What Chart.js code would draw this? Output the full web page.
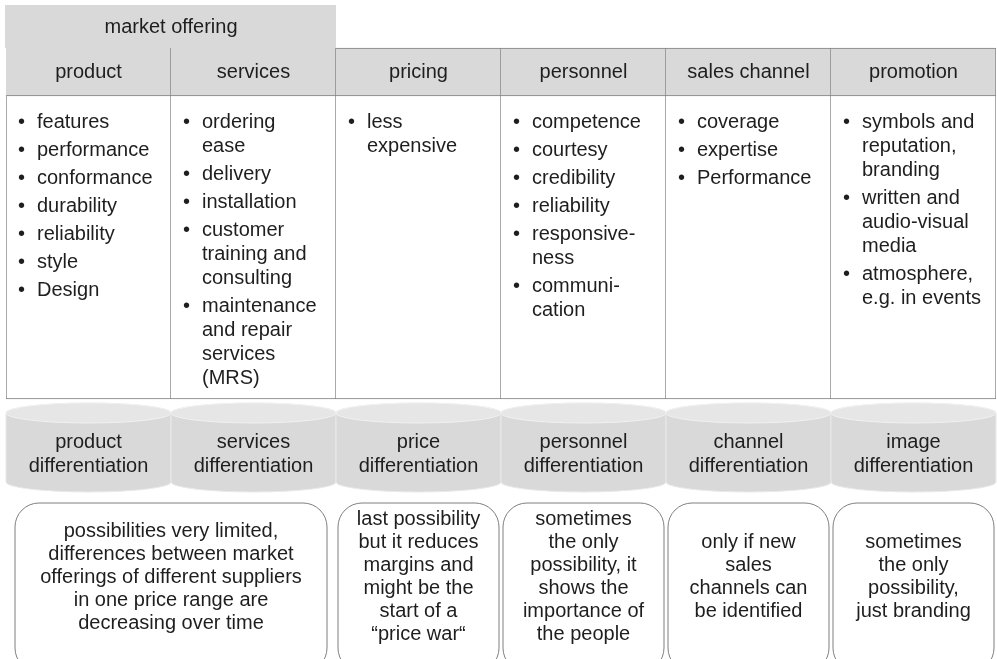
<!DOCTYPE html>
<html><head><meta charset="utf-8">
<script src="https://cdn.jsdelivr.net/npm/chart.js@4"></script>
<style>html,body{margin:0;padding:0;background:#fff}#wrap{width:997px;height:659px;position:relative}</style>
</head><body><div id="wrap"><canvas id="c"></canvas></div>
<script>
// ---- data ----
const groupTitle = 'market offering';
const groupSpan = 2;
const categories = ['product','services','pricing','personnel','sales channel','promotion'];
const attributes = [
  [['features'],['performance'],['conformance'],['durability'],['reliability'],['style'],['Design']],
  [['ordering','ease'],['delivery'],['installation'],['customer','training and','consulting'],['maintenance','and repair','services','(MRS)']],
  [['less','expensive']],
  [['competence'],['courtesy'],['credibility'],['reliability'],['responsive-','ness'],['communi-','cation']],
  [['coverage'],['expertise'],['Performance']],
  [['symbols and','reputation,','branding'],['written and','audio-visual','media'],['atmosphere,','e.g. in events']]
];
const differentiation = [
  ['product','differentiation'],['services','differentiation'],['price','differentiation'],
  ['personnel','differentiation'],['channel','differentiation'],['image','differentiation']
];
const assessments = [
  ['possibilities very limited,','differences between market','offerings of different suppliers','in one price range are','decreasing over time'],
  ['last possibility','but it reduces','margins and','might be the','start of a','\u201Cprice war\u201C'],
  ['sometimes','the only','possibility, it','shows the','importance of','the people'],
  ['only if new','sales','channels can','be identified'],
  ['sometimes','the only','possibility,','just branding']
];
const assessmentSpans = [2,1,1,1,1];

// ---- layout (y-scale units) ----
const ROW = { group:[5,48], header:[48,96], body:[96,399], cylinder:[403,492], assessment:[503,672] };
const FONT = '20px "Liberation Sans", Arial, sans-serif';
const TEXT = '#1e1e1e';
const LINE = '#7f7f7f';
const GRAY = '#d9d9d9';

const band = r => categories.map(() => r.slice());

function rectOf(el){
  return { left: el.x - el.width/2, right: el.x + el.width/2, top: Math.min(el.y, el.base), bottom: Math.max(el.y, el.base) };
}

const diagramPlugin = {
  id: 'diagram',
  beforeDatasetsDraw(chart){
    const ctx = chart.ctx, ys = chart.scales.y;
    const els = chart.getDatasetMeta(0).data;
    const a = rectOf(els[0]), b = rectOf(els[groupSpan-1]);
    ctx.save();
    ctx.fillStyle = GRAY;
    ctx.fillRect(a.left - 1, ys.getPixelForValue(ROW.group[0]), b.right - a.left + 1, ys.getPixelForValue(ROW.group[1]) - ys.getPixelForValue(ROW.group[0]));
    ctx.restore();
  },
  afterDatasetsDraw(chart){
    const ctx = chart.ctx, ys = chart.scales.y;
    ctx.save();
    ctx.font = FONT;
    ctx.fillStyle = TEXT;
    ctx.textBaseline = 'middle';
    ctx.textAlign = 'center';
    // group title
    const hdr = chart.getDatasetMeta(0).data;
    const g0 = rectOf(hdr[0]), g1 = rectOf(hdr[groupSpan-1]);
    ctx.fillText(groupTitle, (g0.left + g1.right)/2, (ys.getPixelForValue(ROW.group[0]) + ys.getPixelForValue(ROW.group[1]))/2 + 1);
    // header labels
    hdr.forEach((el, i) => {
      const r = rectOf(el);
      ctx.fillText(categories[i], (r.left + r.right)/2, (r.top + r.bottom)/2);
    });
    // bullet lists
    const body = chart.getDatasetMeta(1).data;
    body.forEach((el, i) => {
      const r = rectOf(el);
      let y = r.top + 26;
      ctx.textAlign = 'left';
      attributes[i].forEach(item => {
        ctx.fillText('\u2022', r.left + 12, y);
        item.forEach(line => { ctx.fillText(line, r.left + 31, y); y += 24; });
        y += 4;
      });
    });
    // cylinders
    const cyl = chart.getDatasetMeta(2).data;
    const ry = 10;
    cyl.forEach((el, i) => {
      const r = rectOf(el);
      const cx = (r.left + r.right)/2, rx = (r.right - r.left)/2;
      const tC = r.top + ry, bC = r.bottom - ry;
      ctx.beginPath();
      ctx.moveTo(r.left, tC);
      ctx.lineTo(r.left, bC);
      ctx.ellipse(cx, bC, rx, ry, 0, Math.PI, 0, true);
      ctx.lineTo(r.right, tC);
      ctx.ellipse(cx, tC, rx, ry, 0, 0, Math.PI, true);
      ctx.closePath();
      ctx.fillStyle = GRAY;
      ctx.fill();
      ctx.strokeStyle = '#e9e9e9';
      ctx.lineWidth = 1;
      ctx.stroke();
      ctx.beginPath();
      ctx.ellipse(cx, tC, rx, ry, 0, 0, Math.PI*2);
      ctx.fillStyle = '#e6e6e6';
      ctx.fill();
      ctx.strokeStyle = '#f1f1f1';
      ctx.stroke();
      ctx.fillStyle = TEXT;
      ctx.textAlign = 'center';
      const mid = (tC + r.bottom)/2 + 2;
      const lines = differentiation[i];
      lines.forEach((ln, k) => ctx.fillText(ln, cx, mid + (k - (lines.length-1)/2) * 24));
    });
    // assessment boxes
    const as = chart.getDatasetMeta(3).data;
    let idx = 0;
    assessments.forEach((lines, j) => {
      const span = assessmentSpans[j];
      const a = rectOf(as[idx]), b = rectOf(as[idx + span - 1]);
      idx += span;
      const inset = span > 1 ? 9 : 2;
      const x0 = a.left + inset, x1 = b.right - inset;
      const y0 = a.top, y1 = a.bottom;
      const rad = 24;
      ctx.beginPath();
      ctx.moveTo(x0 + rad, y0);
      ctx.arcTo(x1, y0, x1, y1, rad);
      ctx.arcTo(x1, y1, x0, y1, rad);
      ctx.arcTo(x0, y1, x0, y0, rad);
      ctx.arcTo(x0, y0, x1, y0, rad);
      ctx.closePath();
      ctx.fillStyle = '#ffffff';
      ctx.fill();
      ctx.strokeStyle = LINE;
      ctx.lineWidth = 1;
      ctx.stroke();
      ctx.fillStyle = TEXT;
      ctx.textAlign = 'center';
      const cx = (x0 + x1)/2;
      const mid = ys.getPixelForValue(577);
      lines.forEach((ln, k) => ctx.fillText(ln, cx, mid + (k - (lines.length-1)/2) * 23));
    });
    ctx.restore();
  }
};

new Chart(document.getElementById('c'), {
  type: 'bar',
  data: {
    labels: categories,
    datasets: [
      { label: 'header', data: band(ROW.header), backgroundColor: GRAY, borderColor: LINE, borderSkipped: false,
        borderWidth: c => c.dataIndex < groupSpan ? {top:0,left:0,right:1,bottom:1} : {top:1,left:0,right:1,bottom:1} },
      { label: 'body', data: band(ROW.body), backgroundColor: '#ffffff', borderColor: LINE, borderSkipped: false,
        borderWidth: c => ({top:0, left: c.dataIndex === 0 ? 1 : 0, right:1, bottom:1}) },
      { label: 'differentiation', data: band(ROW.cylinder), backgroundColor: 'rgba(0,0,0,0)', borderWidth: 0 },
      { label: 'assessment', data: band(ROW.assessment), backgroundColor: 'rgba(0,0,0,0)', borderWidth: 0 }
    ]
  },
  options: {
    responsive: true,
    maintainAspectRatio: false,
    animation: false,
    layout: { padding: { left: 6, right: 1, top: 0, bottom: 0 } },
    datasets: { bar: { grouped: false, barPercentage: 1, categoryPercentage: 1 } },
    plugins: { legend: { display: false }, tooltip: { enabled: false } },
    scales: {
      x: { type: 'category', display: false, offset: true },
      y: { type: 'linear', display: false, min: 0, max: 659, reverse: true }
    }
  },
  plugins: [diagramPlugin]
});
</script>
</body></html>
